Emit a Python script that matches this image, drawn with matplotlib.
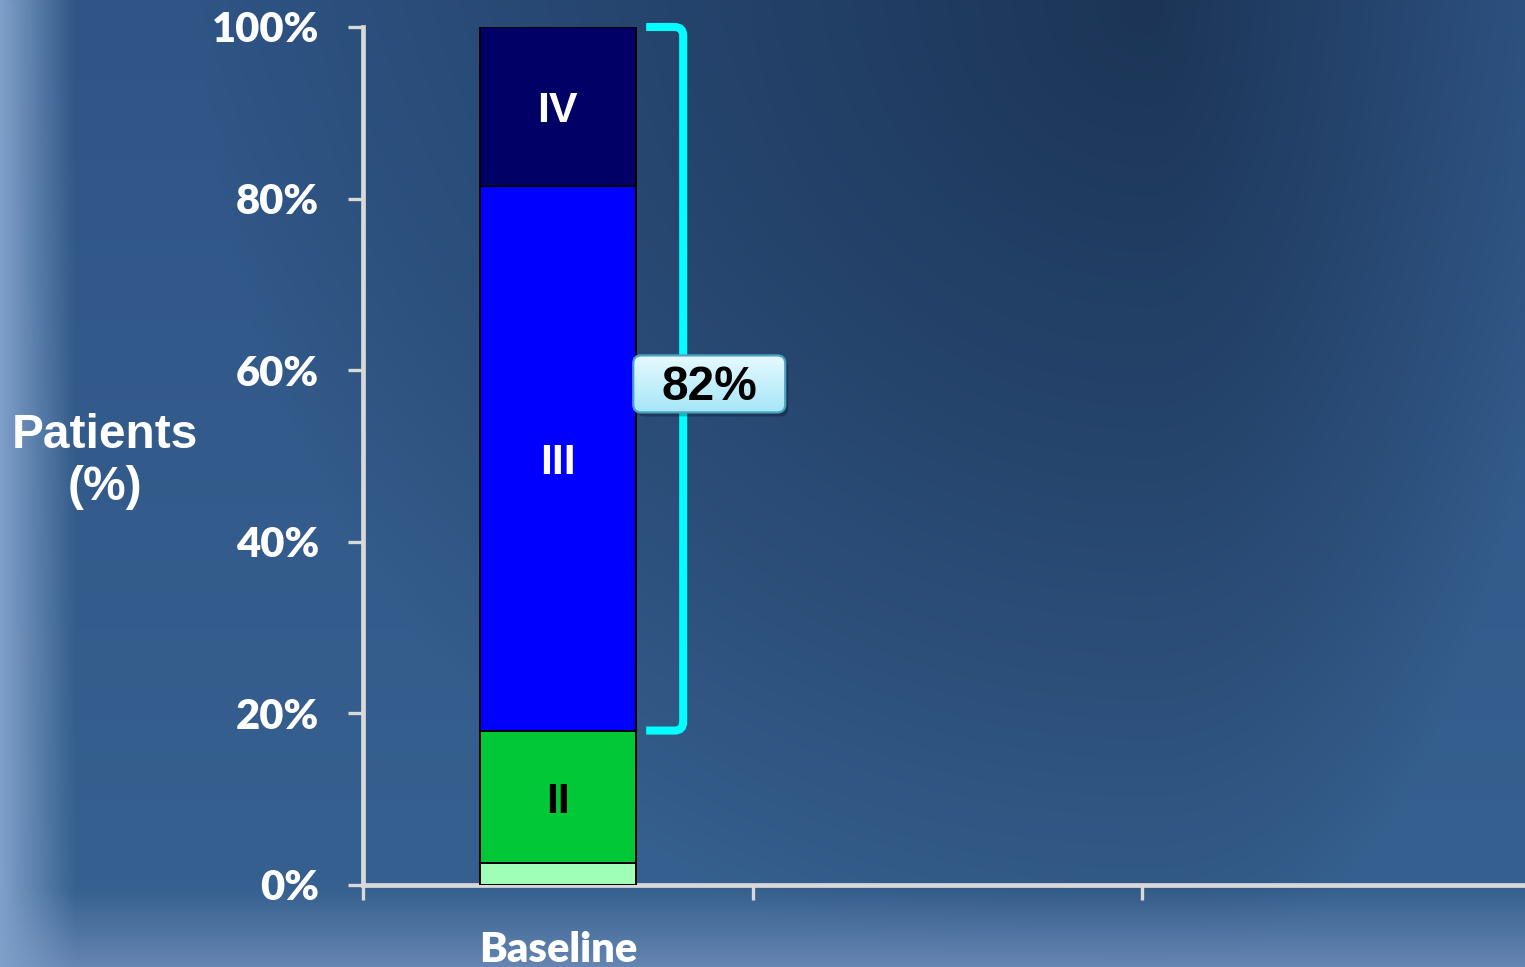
import numpy as np
import matplotlib.pyplot as plt
from matplotlib.path import Path
from matplotlib.patches import PathPatch, FancyBboxPatch
from matplotlib.transforms import ScaledTranslation

# stacked share of patients per NYHA class
categories = ["Baseline", "", ""]
stage_I = [2.6]
stage_II = [15.4]
stage_III = [63.5]
stage_IV = [18.5]
stage_names = ["I", "II", "III", "IV"]
stage_colors = ["#a0ffb6", "#00c837", "#0000ff", "#000066"]
label_colors = [None, "black", "white", "white"]
yticks = [0, 20, 40, 60, 80, 100]

W, H = 1525, 967


def hex2rgb(h):
    h = h.lstrip('#')
    return np.array([int(h[i:i + 2], 16) / 255 for i in (0, 2, 4)])


def blend(img, color, w):
    return img * (1 - w[..., None]) + hex2rgb(color)[None, None, :] * w[..., None]


# slide background: vertical blue gradient, dark patch top right, lighter edges
yy, xx = np.mgrid[0:H, 0:W].astype(float)
t = np.clip(yy / 880, 0, 1)
bg = hex2rgb('#2f5586')[None, None, :] * (1 - t[..., None]) + hex2rgb('#36608f')[None, None, :] * t[..., None]
sx = np.where(xx < 1150, 950.0, 420.0)
d = np.sqrt(((xx - 1150) / sx) ** 2 + (yy / 1000) ** 2)
bg = blend(bg, '#1b3354', np.clip(1 - d, 0, 1) ** 0.9 * 0.95)
bg = blend(bg, '#6686b3', np.clip((yy - 888) / 79, 0, 1))
bg = blend(bg, '#7fa0c9', np.clip((75 - xx) / 75, 0, 1))

fig = plt.figure(figsize=(W / 100, H / 100), dpi=100)
axbg = fig.add_axes([0, 0, 1, 1], zorder=-1)
axbg.imshow(bg, aspect='auto', interpolation='bilinear')
axbg.axis('off')

ax = fig.add_axes([363 / W, 82 / H, 3 * 389.5 / W, 858 / H])
ax.set_facecolor('none')

# nudge for caps-only labels so they sit centred on their cap height
down = ScaledTranslation(0, -0.05, fig.dpi_scale_trans)

# stacked bar
x = np.arange(len(stage_I))
bottom = np.zeros(len(x))
for vals, name, col, lcol in zip([stage_I, stage_II, stage_III, stage_IV],
                                 stage_names, stage_colors, label_colors):
    vals = np.array(vals)
    ax.bar(x, vals, width=0.4, bottom=bottom, color=col, edgecolor='black',
           linewidth=1.4, zorder=3)
    if lcol:
        for xi, b, v in zip(x, bottom, vals):
            ax.text(xi, b + v / 2, name, ha='center', va='center', color=lcol,
                    fontsize=31, fontweight='bold', family='Liberation Sans', zorder=4,
                    transform=ax.transData + down)
    bottom = bottom + vals

# axes styling
for s in ['top', 'right']:
    ax.spines[s].set_visible(False)
for s in ['left', 'bottom']:
    ax.spines[s].set_color('#d9d9d9')
    ax.spines[s].set_linewidth(3.4)

ax.set_yticks(yticks)
ax.set_yticklabels([f"{v}%" for v in yticks])
ax.set_xticks(np.arange(-0.5, 3, 1))
ax.set_xticklabels([])
ax.set_xticks(np.arange(len(categories)), minor=True)
ax.set_xticklabels(categories, minor=True)
ax.tick_params(axis='both', which='major', direction='out', length=10.5, width=2.4,
               color='#d9d9d9', labelcolor='white', labelsize=30, pad=21)
ax.tick_params(axis='x', which='minor', length=0, labelcolor='white', labelsize=30, pad=33)
for lab in ax.get_yticklabels() + ax.get_xticklabels(minor=True):
    lab.set_family('Lato')
    lab.set_fontweight('heavy')

fig.text(105 / W, 1 - 462 / H, "Patients\n(%)", ha='center', va='center', color='white',
         fontsize=34.5, fontweight='bold', family='Liberation Sans', linespacing=1.2)

# cyan bracket over classes III + IV
top = bottom[0]
low = stage_I[0] + stage_II[0]
x0, x1 = 0.227, 0.322
rx, ry = 0.022, 1.0
verts = [(x0, top), (x1 - rx, top), (x1, top), (x1, top - ry),
         (x1, low + ry), (x1, low), (x1 - rx, low), (x0, low)]
codes = [Path.MOVETO, Path.LINETO, Path.CURVE3, Path.CURVE3,
         Path.LINETO, Path.CURVE3, Path.CURVE3, Path.LINETO]
ax.add_patch(PathPatch(Path(verts, codes), facecolor='none', edgecolor='#00ffff',
                       linewidth=5.8, capstyle='butt', zorder=5, clip_on=False))

# value box with a soft shadow and light cyan gradient fill
share = stage_III[0] + stage_IV[0]
tr = fig.dpi_scale_trans + ScaledTranslation(0.389, 58.4, ax.transData)
bw, bh = 1.52, 0.57
style = "round,pad=0,rounding_size=0.08"
ax.add_patch(FancyBboxPatch((-bw / 2 + 0.03, -bh / 2 - 0.04), bw, bh, boxstyle=style,
                            facecolor='black', edgecolor='none', alpha=0.25,
                            transform=tr, zorder=5.5, clip_on=False))
box = FancyBboxPatch((-bw / 2, -bh / 2), bw, bh, boxstyle=style,
                     facecolor='#c8f0fc', edgecolor='none', transform=tr, zorder=6, clip_on=False)
ax.add_patch(box)
grad = np.linspace(0, 1, 64)[:, None, None]
gimg = (1 - grad) * hex2rgb('#e6faff') + grad * hex2rgb('#a6e6f8')
gimg = np.repeat(gimg, 2, axis=1)
im = ax.imshow(gimg, extent=(-bw / 2, bw / 2, -bh / 2, bh / 2), transform=tr,
               aspect='auto', zorder=6.1, interpolation='bilinear')
im.set_clip_path(box)
ax.add_patch(FancyBboxPatch((-bw / 2, -bh / 2), bw, bh, boxstyle=style,
                            facecolor='none', edgecolor='#4aa3c2', linewidth=1.6,
                            transform=tr, zorder=6.2, clip_on=False))
ax.text(0, -0.04, f"{share:.0f}%", transform=tr, ha='center', va='center', color='black',
        fontsize=34.5, fontweight='bold', family='Liberation Sans', zorder=7)

ax.set_xlim(-0.5, 2.5)
ax.set_ylim(0, 100)
fig.savefig('out.png', dpi=100)
